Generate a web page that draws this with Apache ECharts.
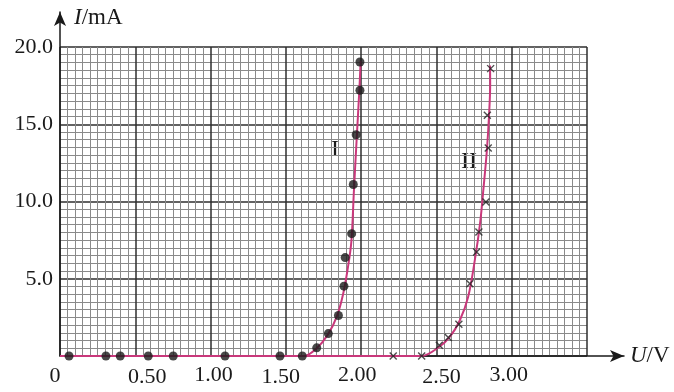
<!DOCTYPE html>
<html>
<head>
<meta charset="utf-8">
<script src="https://cdn.jsdelivr.net/npm/echarts@6/dist/echarts.min.js"></script>
<style>
  html, body { margin: 0; padding: 0; background: #fff; }
  #chart { width: 674px; height: 392px; }
</style>
</head>
<body>
<div id="chart"></div>
<script>
// tick labels
const uTickLabels = ['0', '0.50', '1.00', '1.50', '2.00', '2.50', '3.00'];
const iTickLabels = ['', '5.0', '10.0', '15.0', '20.0'];

// measured points, curve I (dots)
const dotU = [0.06, 0.305, 0.40, 0.586, 0.752, 1.096, 1.461, 1.609, 1.705, 1.782, 1.849, 1.886, 1.894, 1.937, 1.948, 1.967, 1.992, 1.992];
const dotI = [0, 0, 0, 0, 0, 0, 0, 0, 0.53, 1.45, 2.62, 4.52, 6.37, 7.92, 11.1, 14.32, 17.2, 19.03];

// measured points, curve II (crosses)
const crossU = [2.213, 2.402, 2.519, 2.579, 2.649, 2.722, 2.767, 2.782, 2.829, 2.844, 2.838, 2.86];
const crossI = [0, 0, 0.69, 1.19, 2.05, 4.68, 6.73, 8.03, 9.97, 13.46, 15.58, 18.6];

// fitted curves
const curve1U = [0, 1.50, 1.62, 1.70, 1.78, 1.84, 1.88, 1.91, 1.935, 1.952, 1.97, 1.988, 1.997];
const curve1I = [0, 0, 0, 0.45, 1.4, 2.6, 4.0, 5.6, 7.4, 10.7, 14.0, 17.2, 19.1];
const curve2U = [0, 2.30, 2.40, 2.52, 2.59, 2.655, 2.71, 2.755, 2.79, 2.813, 2.835, 2.849, 2.857, 2.856];
const curve2I = [0, 0, 0, 0.6, 1.25, 2.3, 3.8, 6.2, 8.6, 10.9, 13.3, 15.5, 17.6, 18.8];

const pairs = (xs, ys) => xs.map((x, i) => [x, ys[i]]);

const serif = '"Liberation Serif", "DejaVu Serif", serif';
const ink = '#1a1a1a';
const curveColor = '#c9387b';

// small per-label nudges seen in the original [dx, dy]
const xLabelShift = [[-5, 1], [12, 2], [3, 0], [-5, 2], [-4, 0], [5, 2], [-3, 0]];
const xRich = {};
xLabelShift.forEach(([dx, dy], i) => {
  xRich['s' + i] = {
    fontFamily: serif, fontSize: 22, color: ink,
    padding: [Math.max(dy, 0), dx < 0 ? -2 * dx : 0, 0, dx > 0 ? 2 * dx : 0],
  };
});

const chart = echarts.init(document.getElementById('chart'), null, { renderer: 'canvas' });

const option = {
  animation: false,
  grid: [
    { left: 60, top: 47, width: 527, height: 309 },
    { left: 60, top: 12, right: 50, bottom: 36 },
  ],
  xAxis: [
    {
      gridIndex: 0, type: 'value', min: 0, max: 3.5, interval: 0.5,
      axisLine: { show: false },
      axisTick: { show: false },
      axisLabel: {
        margin: 8,
        formatter: (v) => {
          const k = Math.round(v / 0.5);
          return k < uTickLabels.length ? `{s${k}|${uTickLabels[k]}}` : '';
        },
        rich: xRich,
      },
      splitLine: { show: true, lineStyle: { color: '#2e2e2e', width: 1.5 } },
      minorTick: { show: false, splitNumber: 10 },
      minorSplitLine: { show: true, lineStyle: { color: '#8a8a8a', width: 1 } },
    },
    {
      gridIndex: 1, type: 'value', min: 0, max: 1,
      axisLine: { show: true, symbol: ['none', 'arrow'], symbolSize: [9, 14], lineStyle: { color: ink, width: 1.5 } },
      axisTick: { show: false }, axisLabel: { show: false }, splitLine: { show: false },
      name: '{i|U}/V', nameLocation: 'end', nameGap: 6,
      nameTextStyle: {
        fontFamily: serif, fontSize: 23, color: ink, align: 'left', verticalAlign: 'middle',
        rich: { i: { fontFamily: serif, fontSize: 23, color: ink, fontStyle: 'italic' } },
      },
    },
  ],
  yAxis: [
    {
      gridIndex: 0, type: 'value', min: 0, max: 20, interval: 5,
      axisLine: { show: false },
      axisTick: { show: false },
      axisLabel: {
        margin: 7, fontFamily: serif, fontSize: 22, color: ink,
        formatter: (v) => iTickLabels[Math.round(v / 5)] || '',
      },
      splitLine: { show: true, lineStyle: { color: '#2e2e2e', width: 1.5 } },
      minorTick: { show: false, splitNumber: 10 },
      minorSplitLine: { show: true, lineStyle: { color: '#8a8a8a', width: 1 } },
    },
    {
      gridIndex: 1, type: 'value', min: 0, max: 1,
      axisLine: { show: true, symbol: ['none', 'arrow'], symbolSize: [9, 14], lineStyle: { color: ink, width: 1.5 } },
      axisTick: { show: false }, axisLabel: { show: false }, splitLine: { show: false },
      name: '{i|I}/mA', nameLocation: 'end', nameGap: -6,
      nameTextStyle: {
        fontFamily: serif, fontSize: 23, color: ink, align: 'left', verticalAlign: 'middle',
        padding: [0, 0, 0, 14],
        rich: { i: { fontFamily: serif, fontSize: 23, color: ink, fontStyle: 'italic' } },
      },
    },
  ],
  graphic: [
    { type: 'text', left: 331, top: 138, style: { text: 'I', font: '24px ' + serif, fill: ink } },
    { type: 'text', left: 461, top: 150, style: { text: 'II', font: '24px ' + serif, fill: ink } },
  ],
  series: [
    {
      name: 'I curve', type: 'line', xAxisIndex: 0, yAxisIndex: 0,
      data: pairs(curve1U, curve1I), smooth: 0.35, symbol: 'none',
      lineStyle: { color: curveColor, width: 2 }, z: 3,
    },
    {
      name: 'II curve', type: 'line', xAxisIndex: 0, yAxisIndex: 0,
      data: pairs(curve2U, curve2I), smooth: 0.35, symbol: 'none',
      lineStyle: { color: curveColor, width: 2 }, z: 3,
    },
    {
      name: 'I', type: 'scatter', xAxisIndex: 0, yAxisIndex: 0,
      data: pairs(dotU, dotI), symbol: 'circle', symbolSize: 9,
      itemStyle: { color: ink }, z: 4,
    },
    {
      name: 'II', type: 'scatter', xAxisIndex: 0, yAxisIndex: 0,
      data: pairs(crossU, crossI), symbol: 'path://M0,0L10,10M10,0L0,10', symbolSize: 7,
      itemStyle: { color: 'transparent', borderColor: '#222', borderWidth: 1.4 }, z: 4,
    },
  ],
};

chart.setOption(option);
</script>
</body>
</html>
